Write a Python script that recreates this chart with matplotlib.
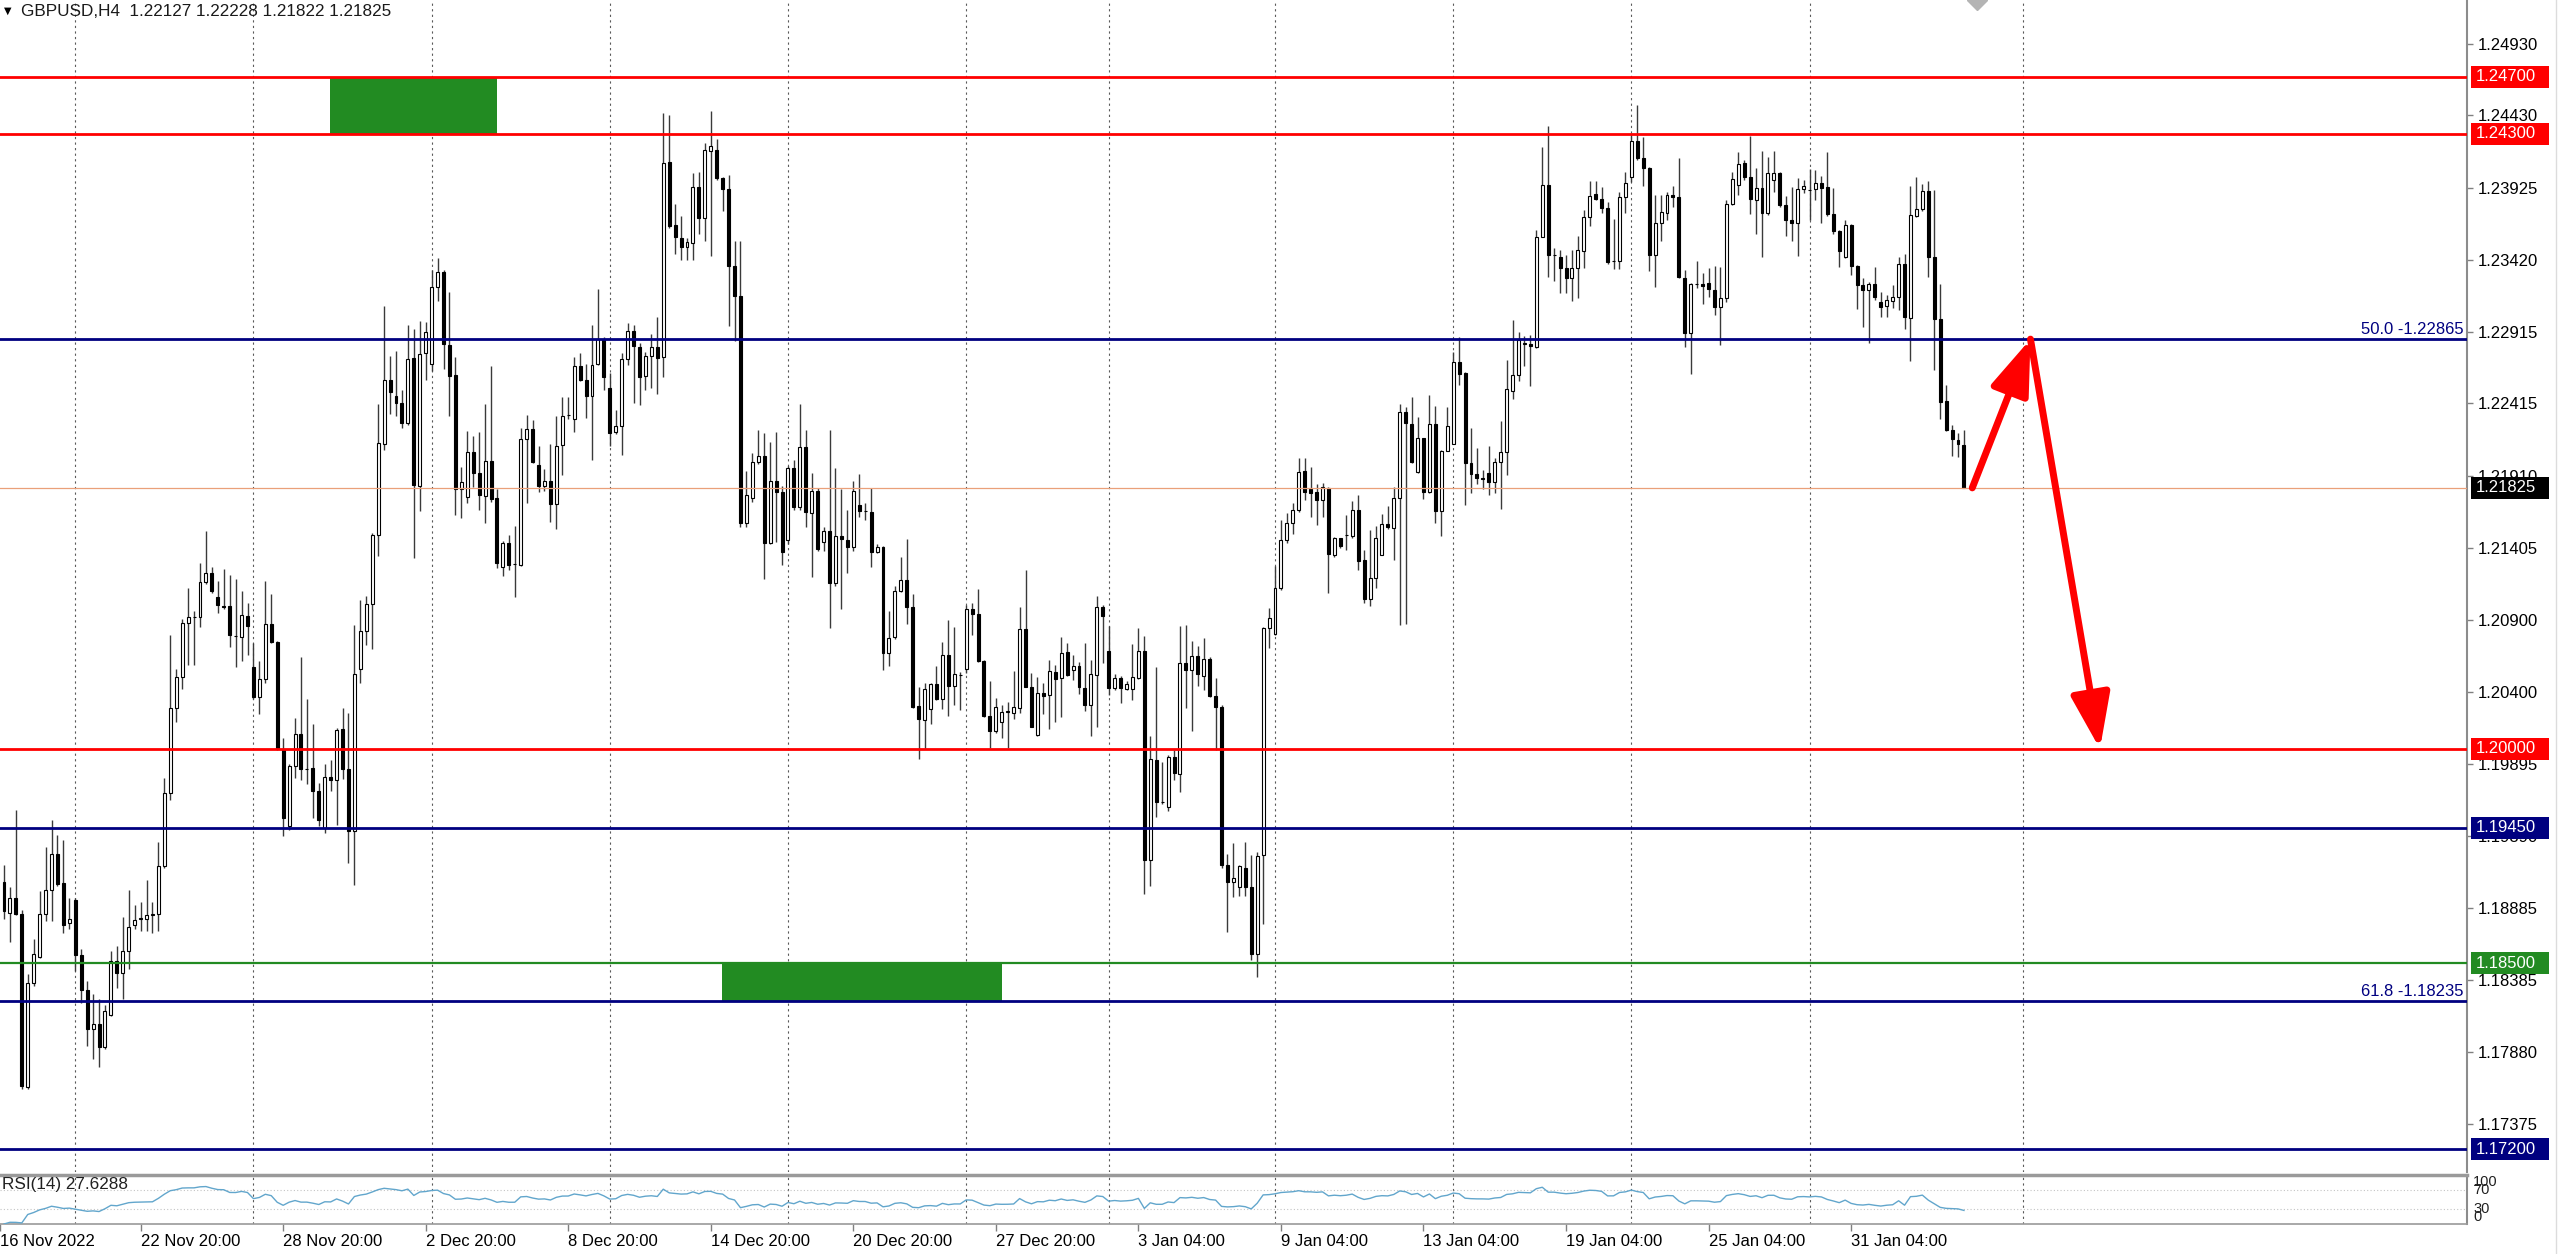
import numpy as np
import pandas as pd
import matplotlib
matplotlib.use('Agg')
from matplotlib import pyplot as plt
from matplotlib import transforms
from matplotlib.patches import Rectangle, FancyArrowPatch
from matplotlib.lines import Line2D

plt.rcParams['font.family'] = ['Liberation Sans', 'DejaVu Sans']

# ---------------- data (GBPUSD H4) ----------------
symbol = 'GBPUSD,H4'

op = [1.19067, 1.18856, 1.18955, 1.18848, 1.17634, 1.18365, 1.18544, 1.18848, 1.19016, 1.19264,
      1.19061, 1.18780, 1.18946, 1.18561, 1.18314, 1.18041, 1.18078, 1.17915, 1.18140, 1.18516,
      1.18432, 1.18589, 1.18772, 1.18809, 1.18809, 1.18837, 1.18848, 1.19179, 1.19691, 1.20289,
      1.20500, 1.20879, 1.20920, 1.20922, 1.21166, 1.21231, 1.21062, 1.20998, 1.20998, 1.20787,
      1.20781, 1.20930, 1.20570, 1.20360, 1.20486, 1.20871, 1.20747, 1.20000, 1.19460, 1.19882,
      1.20101, 1.19862, 1.19868, 1.19705, 1.19446, 1.19803, 1.19784,
      1.20141, 1.19857, 1.19429, 1.20560, 1.20823, 1.21016, 1.21493, 1.22134, 1.22581, 1.22470,
      1.22415, 1.22277, 1.22735, 1.21836, 1.22768, 1.22691, 1.23232, 1.23334, 1.22824, 1.22617,
      1.21816, 1.21761, 1.22073, 1.21927, 1.21769, 1.22015, 1.21753, 1.21273, 1.21438, 1.21292,
      1.21284, 1.22167, 1.22239, 1.21982, 1.21836, 1.21871, 1.21714, 1.22128, 1.22332, 1.22305,
      1.22680, 1.22581, 1.22470, 1.22691, 1.22865, 1.22526, 1.22216, 1.22258, 1.22727, 1.22920,
      1.22807, 1.22608, 1.22746, 1.22807,
      1.22742, 1.24106, 1.23663, 1.23572, 1.23506, 1.23536, 1.23930, 1.23712, 1.24179, 1.24188,
      1.23991, 1.23915, 1.23379, 1.23166, 1.21582, 1.21754, 1.22006, 1.22051, 1.21439, 1.21876,
      1.21794, 1.21461, 1.21961, 1.21688, 1.22112, 1.21651, 1.21803, 1.21445, 1.21521, 1.21158,
      1.21491, 1.21461, 1.21415, 1.21703, 1.21664, 1.21658, 1.21379, 1.21409, 1.20673, 1.20779,
      1.21106, 1.21179, 1.20991, 1.20300, 1.20203, 1.20279, 1.20452, 1.20349, 1.20658, 1.20439,
      1.20518, 1.20561, 1.20976, 1.20945, 1.20612, 1.20233, 1.20127,
      1.20190, 1.20260, 1.20248, 1.20283, 1.20837, 1.20435, 1.20096, 1.20393, 1.20376, 1.20540,
      1.20493, 1.20680, 1.20552, 1.20580, 1.20423, 1.20306, 1.20517, 1.20991, 1.20687, 1.20423,
      1.20493, 1.20416, 1.20416, 1.20493, 1.20687, 1.19225, 1.19921, 1.19629, 1.19594, 1.19940,
      1.19827, 1.20598, 1.20552, 1.20650, 1.20510, 1.20626, 1.20369, 1.20290, 1.19185, 1.19068,
      1.19033, 1.19169, 1.19033, 1.18566, 1.19255, 1.20844, 1.20804, 1.21124, 1.21458, 1.21579,
      1.21671, 1.21941, 1.21816, 1.21796, 1.21743, 1.21823, 1.21357, 1.21473, 1.21497, 1.21490,
      1.21671, 1.21321, 1.21049, 1.21193, 1.21357, 1.21574, 1.21545, 1.21755, 1.22358, 1.22274,
      1.21936, 1.22173, 1.21796, 1.22274, 1.21666, 1.22086, 1.22134, 1.22703, 1.22631, 1.21997,
      1.21924, 1.21893, 1.21931, 1.21864, 1.22004, 1.22076, 1.22503, 1.22612, 1.22829, 1.22833,
      1.22809, 1.23581, 1.23943, 1.23451, 1.23436, 1.23364, 1.23292, 1.23364, 1.23480, 1.23721,
      1.23878, 1.23842, 1.23781, 1.23408,
      1.23408, 1.23857, 1.24001, 1.24253, 1.24130, 1.24060, 1.23453, 1.23679, 1.23745, 1.23873,
      1.23857, 1.23290, 1.22905, 1.23250, 1.23250, 1.23255, 1.23208, 1.23092, 1.23150, 1.23810,
      1.23943, 1.24095, 1.24001, 1.23838, 1.23920, 1.23745, 1.23978, 1.24029, 1.23803, 1.23698,
      1.23675, 1.23913, 1.23908, 1.23913, 1.23959, 1.23927, 1.23740, 1.23624, 1.23437, 1.23663,
      1.23376, 1.23243, 1.23208, 1.23250, 1.23127, 1.23096, 1.23134, 1.23157, 1.23390, 1.23010,
      1.23726, 1.23773, 1.23903, 1.23442, 1.23003, 1.22434, 1.22233, 1.22163, 1.22127]

hi = [1.19185, 1.19033, 1.19573, 1.18876, 1.18426, 1.18674, 1.19005, 1.19314, 1.19503, 1.19399,
      1.19362, 1.18960, 1.18960, 1.18603, 1.18379, 1.18286, 1.18252, 1.18210, 1.18589, 1.18623,
      1.18828, 1.19011, 1.18912, 1.18932, 1.19081, 1.18932, 1.19348, 1.19798, 1.20795, 1.20556,
      1.20908, 1.21124, 1.20964, 1.21301, 1.21526, 1.21273, 1.21175, 1.21259, 1.21217, 1.21189,
      1.21104, 1.21020, 1.20739, 1.20613, 1.21175, 1.21085, 1.20753, 1.20079, 1.19896, 1.20214,
      1.20641, 1.20346, 1.20177, 1.19764, 1.19896, 1.19924, 1.20149,
      1.20284, 1.20251, 1.20864, 1.21043, 1.21071, 1.21513, 1.22410, 1.23094, 1.22746, 1.22782,
      1.22506, 1.22967, 1.22934, 1.22995, 1.22984, 1.23348, 1.23431, 1.23348, 1.23196, 1.22741,
      1.21974, 1.22222, 1.22189, 1.22216, 1.22410, 1.22680, 1.21816, 1.21457, 1.21499, 1.21560,
      1.22244, 1.22332, 1.22299, 1.22120, 1.21954, 1.22134, 1.22327, 1.22459, 1.22459, 1.22741,
      1.22768, 1.22691, 1.22962, 1.23216, 1.22879, 1.22625, 1.22368, 1.22768, 1.22975, 1.22967,
      1.22837, 1.22774, 1.22901, 1.23022,
      1.24445, 1.24430, 1.23809, 1.23724, 1.23572, 1.24027, 1.24036, 1.24239, 1.24460, 1.24263,
      1.23997, 1.24015, 1.23551, 1.23551, 1.21945, 1.22067, 1.22227, 1.22209, 1.22148, 1.22218,
      1.21839, 1.21976, 1.22021, 1.22409, 1.22233, 1.21930, 1.21824, 1.21551, 1.22227, 1.21967,
      1.21815, 1.21673, 1.21870, 1.21924, 1.21718, 1.21824, 1.21430, 1.21421, 1.20967, 1.21142,
      1.21339, 1.21470, 1.21082, 1.20430, 1.20461, 1.20461, 1.20582, 1.20749, 1.20900, 1.20855,
      1.20536, 1.21006, 1.21021, 1.21118, 1.20620, 1.20476, 1.20355,
      1.20306, 1.20330, 1.20547, 1.20995, 1.21252, 1.20533, 1.20500, 1.20458, 1.20622, 1.20587,
      1.20781, 1.20738, 1.20657, 1.20610, 1.20743, 1.20622, 1.21070, 1.21007, 1.20860, 1.20524,
      1.20510, 1.20477, 1.20734, 1.20844, 1.20790, 1.20089, 1.20575, 1.19909, 1.19956, 1.19991,
      1.20860, 1.20867, 1.20757, 1.20720, 1.20774, 1.20640, 1.20493, 1.20306, 1.19267, 1.19342,
      1.19185, 1.19349, 1.19255, 1.19278, 1.20855, 1.20984, 1.21276, 1.21600, 1.21650, 1.21720,
      1.22033, 1.22033, 1.21972, 1.21852, 1.21859, 1.21828, 1.21483, 1.21478, 1.21635, 1.21731,
      1.21772, 1.21394, 1.21531, 1.21555, 1.21642, 1.21695, 1.21828, 1.22414, 1.22390, 1.22462,
      1.22322, 1.22177, 1.22472, 1.22399, 1.22093, 1.22390, 1.22776, 1.22882, 1.22636, 1.22245,
      1.22105, 1.21948, 1.22117, 1.22037, 1.22293, 1.22720, 1.22997, 1.22913, 1.22889, 1.22896,
      1.23629, 1.24208, 1.24353, 1.23504, 1.23485, 1.23451, 1.23485, 1.23588, 1.23769, 1.23974,
      1.23974, 1.23926, 1.23822, 1.23702,
      1.23895, 1.24036, 1.24305, 1.24500, 1.24281, 1.24071, 1.23873, 1.23873, 1.23896, 1.23936,
      1.24130, 1.23348, 1.23255, 1.23414, 1.23325, 1.23360, 1.23376, 1.23372, 1.23838, 1.24036,
      1.24176, 1.24118, 1.24286, 1.24060, 1.24183, 1.24141, 1.24183, 1.24036, 1.23866, 1.23927,
      1.23990, 1.23978, 1.24053, 1.24048, 1.24006, 1.24176, 1.23920, 1.23630, 1.23698, 1.23670,
      1.23380, 1.23290, 1.23267, 1.23372, 1.23197, 1.23173, 1.23243, 1.23437, 1.23460, 1.23936,
      1.24001, 1.23950, 1.23973, 1.23908, 1.23250, 1.22543, 1.22263, 1.22210, 1.22228]

lo = [1.18814, 1.18651, 1.18842, 1.17620, 1.17620, 1.18342, 1.18539, 1.18800, 1.18800, 1.19039,
      1.18716, 1.18744, 1.18449, 1.18224, 1.17921, 1.17831, 1.17774, 1.17901, 1.18130, 1.18331,
      1.18252, 1.18463, 1.18744, 1.18730, 1.18730, 1.18716, 1.18730, 1.19170, 1.19643, 1.20191,
      1.20416, 1.20584, 1.20584, 1.20851, 1.21152, 1.21090, 1.20950, 1.20978, 1.20711, 1.20570,
      1.20613, 1.20655, 1.20346, 1.20247, 1.20458, 1.20739, 1.19995, 1.19390, 1.19432, 1.19798,
      1.19784, 1.19755, 1.19517, 1.19460, 1.19410, 1.19708, 1.19466,
      1.19788, 1.19200, 1.19050, 1.20464, 1.20726, 1.20698, 1.21347, 1.22092, 1.22341, 1.22327,
      1.22244, 1.22266, 1.21333, 1.21664, 1.22581, 1.22644, 1.23133, 1.22658, 1.22327, 1.21637,
      1.21615, 1.21720, 1.21830, 1.21670, 1.21582, 1.21725, 1.21264, 1.21209, 1.21250, 1.21063,
      1.21280, 1.21720, 1.21996, 1.21797, 1.21802, 1.21587, 1.21540, 1.21913, 1.22305, 1.22216,
      1.22575, 1.22313, 1.22023, 1.22685, 1.22506, 1.22120, 1.22203, 1.22056, 1.22686, 1.22415,
      1.22404, 1.22506, 1.22520, 1.22479,
      1.22597, 1.23642, 1.23460, 1.23415, 1.23415, 1.23421, 1.23597, 1.23551, 1.23445, 1.23975,
      1.23763, 1.22960, 1.22854, 1.21551, 1.21551, 1.21724, 1.21991, 1.21188, 1.21430, 1.21445,
      1.21288, 1.21430, 1.21673, 1.21673, 1.21551, 1.21203, 1.21385, 1.21385, 1.20846, 1.21142,
      1.20976, 1.21227, 1.21385, 1.21621, 1.21603, 1.21270, 1.21370, 1.20552, 1.20582, 1.20770,
      1.21097, 1.20876, 1.20285, 1.19930, 1.20000, 1.20173, 1.20339, 1.20279, 1.20233, 1.20309,
      1.20270, 1.20530, 1.20794, 1.20605, 1.20225, 1.20006, 1.20112,
      1.20073, 1.20003, 1.20206, 1.20253, 1.20430, 1.20150, 1.20090, 1.20243, 1.20136, 1.20190,
      1.20225, 1.20510, 1.20482, 1.20383, 1.20267, 1.20089, 1.20150, 1.20603, 1.20376, 1.20411,
      1.20318, 1.20411, 1.20341, 1.20486, 1.18986, 1.19045, 1.19524, 1.19613, 1.19566, 1.19781,
      1.19699, 1.20283, 1.20126, 1.20439, 1.20411, 1.20365, 1.19991, 1.19169, 1.18718, 1.18963,
      1.18975, 1.18975, 1.18524, 1.18402, 1.18776, 1.20703, 1.20797, 1.21112, 1.21439, 1.21500,
      1.21659, 1.21743, 1.21623, 1.21562, 1.21623, 1.21092, 1.21345, 1.21406, 1.21394, 1.21478,
      1.21249, 1.21020, 1.20996, 1.21128, 1.21353, 1.21538, 1.21321, 1.20863, 1.20875, 1.22000,
      1.21931, 1.21748, 1.21790, 1.21579, 1.21490, 1.22081, 1.22129, 1.22544, 1.21707, 1.21791,
      1.21852, 1.21820, 1.21772, 1.21791, 1.21676, 1.21912, 1.22443, 1.22575, 1.22679, 1.22539,
      1.22805, 1.23577, 1.23299, 1.23268, 1.23190, 1.23190, 1.23130, 1.23154, 1.23364, 1.23654,
      1.23837, 1.23745, 1.23388, 1.23354,
      1.23354, 1.23745, 1.23966, 1.24118, 1.23936, 1.23344, 1.23232, 1.23554, 1.23698, 1.23791,
      1.23290, 1.22807, 1.22620, 1.23220, 1.23110, 1.23157, 1.23033, 1.22823, 1.23127, 1.23803,
      1.23873, 1.23978, 1.23740, 1.23600, 1.23442, 1.23733, 1.23896, 1.23791, 1.23586, 1.23554,
      1.23446, 1.23889, 1.23698, 1.23838, 1.23675, 1.23726, 1.23600, 1.23367, 1.23430, 1.23313,
      1.23073, 1.22952, 1.22835, 1.23138, 1.23022, 1.23022, 1.23080, 1.23068, 1.22933, 1.22714,
      1.23717, 1.23763, 1.23302, 1.22648, 1.22310, 1.22224, 1.22046, 1.22042, 1.21822]

cl = [1.18865, 1.18960, 1.18848, 1.17640, 1.18365, 1.18567, 1.18848, 1.19016, 1.19264, 1.19053,
      1.18772, 1.18809, 1.18561, 1.18314, 1.18041, 1.18078, 1.17915, 1.18168, 1.18516, 1.18432,
      1.18589, 1.18758, 1.18806, 1.18820, 1.18837, 1.18848, 1.19179, 1.19691, 1.20289, 1.20500,
      1.20879, 1.20922, 1.20925, 1.21166, 1.21231, 1.21104, 1.21006, 1.20995, 1.20795, 1.20790,
      1.20936, 1.20860, 1.20360, 1.20486, 1.20871, 1.20747, 1.20000, 1.19517, 1.19882, 1.20101,
      1.19859, 1.19860, 1.19705, 1.19503, 1.19803, 1.19784, 1.20135,
      1.19857, 1.19429, 1.20527, 1.20823, 1.21016, 1.21499, 1.22139, 1.22581, 1.22492, 1.22415,
      1.22277, 1.22727, 1.21844, 1.22763, 1.22912, 1.23232, 1.23334, 1.22829, 1.22608, 1.21816,
      1.21863, 1.22073, 1.21927, 1.21775, 1.22015, 1.21747, 1.21300, 1.21438, 1.21284, 1.21290,
      1.22167, 1.22239, 1.22009, 1.21836, 1.21871, 1.21714, 1.22120, 1.22327, 1.22335, 1.22680,
      1.22581, 1.22465, 1.22686, 1.22865, 1.22603, 1.22211, 1.22258, 1.22727, 1.22920, 1.22818,
      1.22597, 1.22746, 1.22807, 1.22735,
      1.24097, 1.23657, 1.23582, 1.23506, 1.23542, 1.23930, 1.23712, 1.24188, 1.24218, 1.23991,
      1.23915, 1.23379, 1.23166, 1.21582, 1.21773, 1.22006, 1.22051, 1.21439, 1.21876, 1.21794,
      1.21379, 1.21967, 1.21688, 1.22112, 1.21658, 1.21803, 1.21400, 1.21521, 1.21158, 1.21491,
      1.21470, 1.21415, 1.21803, 1.21664, 1.21660, 1.21379, 1.21415, 1.20673, 1.20773, 1.21106,
      1.21179, 1.20991, 1.20294, 1.20209, 1.20421, 1.20452, 1.20349, 1.20658, 1.20439, 1.20521,
      1.20520, 1.20976, 1.20945, 1.20612, 1.20233, 1.20127, 1.20294,
      1.20260, 1.20265, 1.20290, 1.20837, 1.20435, 1.20154, 1.20393, 1.20369, 1.20547, 1.20486,
      1.20673, 1.20517, 1.20580, 1.20430, 1.20306, 1.20524, 1.20991, 1.20930, 1.20423, 1.20493,
      1.20423, 1.20454, 1.20505, 1.20687, 1.19225, 1.19926, 1.19629, 1.19630, 1.19940, 1.19832,
      1.20598, 1.20552, 1.20650, 1.20524, 1.20626, 1.20369, 1.20290, 1.19185, 1.19068, 1.19099,
      1.19178, 1.19033, 1.18566, 1.19248, 1.20844, 1.20914, 1.21124, 1.21458, 1.21579, 1.21670,
      1.21936, 1.21796, 1.21791, 1.21738, 1.21828, 1.21362, 1.21478, 1.21418, 1.21495, 1.21671,
      1.21314, 1.21049, 1.21193, 1.21473, 1.21574, 1.21550, 1.21755, 1.22358, 1.22279, 1.22009,
      1.22173, 1.21796, 1.22274, 1.21666, 1.22081, 1.22255, 1.22708, 1.22624, 1.21997, 1.21924,
      1.21893, 1.21890, 1.21864, 1.22009, 1.22076, 1.22515, 1.22616, 1.22858, 1.22841, 1.22817,
      1.23581, 1.23943, 1.23451, 1.23450, 1.23359, 1.23292, 1.23364, 1.23485, 1.23721, 1.23866,
      1.23847, 1.23781, 1.23403, 1.23410,
      1.23861, 1.23959, 1.24253, 1.24130, 1.24060, 1.23453, 1.23679, 1.23756, 1.23873, 1.23857,
      1.23297, 1.22910, 1.23250, 1.23252, 1.23236, 1.23213, 1.23092, 1.23150, 1.23810, 1.23983,
      1.24090, 1.24001, 1.23843, 1.23920, 1.23745, 1.24025, 1.24029, 1.23803, 1.23698, 1.23675,
      1.23913, 1.23936, 1.23910, 1.23959, 1.23920, 1.23740, 1.23624, 1.23484, 1.23663, 1.23376,
      1.23243, 1.23208, 1.23250, 1.23162, 1.23092, 1.23138, 1.23162, 1.23390, 1.23017, 1.23733,
      1.23773, 1.23903, 1.23442, 1.23003, 1.22427, 1.22233, 1.22170, 1.22130, 1.21825]

# horizontal levels drawn on the chart
red_levels = [1.24700, 1.24300, 1.20000]
navy_levels = [1.19450, 1.17200]
green_levels = [1.18500]
fibo_levels = [(1.22865, '50.0 -1.22865'), (1.18235, '61.8 -1.18235')]
bid = 1.21825

price_ticks = [1.24930, 1.24430, 1.23925, 1.23420, 1.22915, 1.22415, 1.21910, 1.21405,
               1.20900, 1.20400, 1.19895, 1.19390, 1.18885, 1.18385, 1.17880, 1.17375]

# x axis labels (bar index of each label)
date_labels = ['16 Nov 2022', '22 Nov 20:00', '28 Nov 20:00', '2 Dec 20:00', '8 Dec 20:00',
               '14 Dec 20:00', '20 Dec 20:00', '27 Dec 20:00', '3 Jan 04:00', '9 Jan 04:00',
               '13 Jan 04:00', '19 Jan 04:00', '25 Jan 04:00', '31 Jan 04:00']
date_pos = [-0.67, 23, 47, 71, 95, 119, 143, 167, 191, 215, 239, 263, 287, 311]
week_sep = [12, 42, 72, 102, 132, 162, 186, 214, 244, 274, 304, 340]

# green zones (bar from, bar to, price low, price high)
zones = [(54.9, 83.0, 1.24300, 1.24700), (120.9, 168.0, 1.18235, 1.18500)]

# forecast arrows (bar, price)
path_pts = [(331.4, 1.21825), (341.2, 1.22865), (352.9, 1.20000)]
shift_bar = 332.2

rsi_text = 'RSI(14) 27.6288'

op, hi, lo, cl = map(np.array, (op, hi, lo, cl))
n = len(cl)
idx = np.arange(n)

# ---------------- layout ----------------
W, H = 2560, 1254
fig = plt.figure(figsize=(W / 100, H / 100), dpi=100)
fig.patch.set_facecolor('white')

x_right = 2467
ax = fig.add_axes([0, 1 - 1172 / H, x_right / W, 1172 / H])
rax = fig.add_axes([0, 1 - 1224 / H, x_right / W, 49 / H])

xmin, xmax = -0.674, 414.7
ymin, ymax = 1.17042, 1.25236

# ---------------- candles ----------------
up = cl >= op
b_lo = np.minimum(op, cl)
b_hi = np.maximum(op, cl)
b_h = np.maximum(b_hi - b_lo, 0.000012)
w_hi = np.maximum(hi, b_hi)
w_lo = np.minimum(lo, b_lo)

ax.vlines(idx, w_lo, w_hi, color='#3a3a3a', lw=1.0, zorder=3)
ax.bar(idx[up], b_h[up], bottom=b_lo[up], width=0.5, facecolor='white',
       edgecolor='black', lw=0.8, zorder=4)
ax.bar(idx[~up], b_h[~up], bottom=b_lo[~up], width=0.5, facecolor='black',
       edgecolor='black', lw=0.8, zorder=4)

# ---------------- grid (week separators) ----------------
for xs in week_sep:
    ax.axvline(xs, color='#5a5a5a', lw=0.8, ls=(0, (2, 3)), zorder=1)
    rax.axvline(xs, color='#5a5a5a', lw=0.8, ls=(0, (2, 3)), zorder=1)

# ---------------- zones and levels ----------------
for x0, x1, p0, p1 in zones:
    ax.add_patch(Rectangle((x0, p0), x1 - x0, p1 - p0, facecolor='#228b22',
                           edgecolor='none', zorder=2))

ax.axhline(bid, color='#eaa07a', lw=0.9, zorder=5)
for p in red_levels:
    ax.axhline(p, color='#ff0000', lw=2.0, zorder=6)
for p in navy_levels:
    ax.axhline(p, color='#000080', lw=2.0, zorder=6)
for p in green_levels:
    ax.axhline(p, color='#228b22', lw=1.6, zorder=6)

tr_ax = transforms.blended_transform_factory(ax.transAxes, ax.transData)
for p, txt in fibo_levels:
    ax.axhline(p, color='#000080', lw=2.0, zorder=6)
    ax.text(0.9985, p + 0.00018, txt, transform=tr_ax, ha='right', va='bottom',
            color='#000080', fontsize=12, zorder=7)

# ---------------- arrows ----------------
for a, b in zip(path_pts[:-1], path_pts[1:]):
    ax.add_patch(FancyArrowPatch(a, b, arrowstyle='-|>,head_length=1.4,head_width=0.5',
                                 mutation_scale=24, color='#ff0000', lw=5,
                                 shrinkA=0, shrinkB=0, capstyle='round', zorder=8))

# chart shift marker at the top edge
ax.plot([shift_bar], [ymax], marker='D', markersize=10, color='#b4b4b4',
        clip_on=False, zorder=9)

# ---------------- price axis ----------------
ax.set_xlim(xmin, xmax)
ax.set_ylim(ymin, ymax)
ax.yaxis.tick_right()
ax.set_yticks(price_ticks)
ax.set_yticklabels(['%.5f' % v for v in price_ticks])
ax.tick_params(axis='y', length=4, width=1, color='#808080', pad=4, labelsize=12)
ax.tick_params(axis='x', bottom=False, labelbottom=False)
for s in ['top', 'left', 'bottom']:
    ax.spines[s].set_visible(False)
ax.spines['right'].set_color('#8c8c8c')
ax.spines['right'].set_linewidth(1.5)

# coloured price tags
tr_tag = transforms.blended_transform_factory(fig.transFigure, ax.transData)
half = 11.0 * (ymax - ymin) / 1172
tags = [(p, '#ff0000') for p in red_levels] + [(p, '#000080') for p in navy_levels] + \
       [(p, '#228b22') for p in green_levels] + [(bid, '#000000')]
for p, c in tags:
    ax.add_patch(Rectangle((2471 / W, p - half), 78 / W, 2 * half, transform=tr_tag,
                           facecolor=c, edgecolor='none', clip_on=False, zorder=10))
    ax.text(2476 / W, p, '%.5f' % p, transform=tr_tag, color='white', fontsize=12,
            ha='left', va='center', clip_on=False, zorder=11)

# ---------------- RSI ----------------
delta = np.diff(cl, prepend=op[0])
gain = pd.Series(np.clip(delta, 0, None)).ewm(alpha=1 / 14, adjust=False).mean()
loss = pd.Series(np.clip(-delta, 0, None)).ewm(alpha=1 / 14, adjust=False).mean()
rsi = 100 - 100 / (1 + gain / loss)

rax.plot(idx, rsi, color='#62a6cc', lw=1.0, zorder=3)
rax.axhline(70, color='#c4c4c4', lw=0.8, ls=(0, (1, 2)))
rax.axhline(30, color='#c4c4c4', lw=0.8, ls=(0, (1, 2)))
rax.set_xlim(xmin, xmax)
rax.set_ylim(0, 100)
rax.text(0.001, 0.95, rsi_text, transform=rax.transAxes, ha='left', va='top',
         fontsize=12.3, color='#202020')

rax.yaxis.tick_right()
rax.set_yticks([])
tr_r = transforms.blended_transform_factory(rax.transAxes, rax.transData)
for v, va in [(100, 'top'), (70, 'center'), (30, 'center'), (0, 'bottom')]:
    rax.text(1.0025, v, str(v), transform=tr_r, ha='left', va=va, fontsize=10.5,
             color='#202020', clip_on=False)

rax.set_xticks(date_pos)
rax.set_xticklabels(date_labels, ha='left')
rax.tick_params(axis='x', length=5, width=1, color='#808080', pad=2, labelsize=12)
rax.spines['left'].set_visible(False)
rax.spines['top'].set_color('#9a9a9a')
rax.spines['top'].set_linewidth(2.5)
rax.spines['bottom'].set_color('#9a9a9a')
rax.spines['bottom'].set_linewidth(1.2)
rax.spines['right'].set_color('#8c8c8c')
rax.spines['right'].set_linewidth(1.5)

# ---------------- header ----------------
fig.text(4 / W, 1 - 11 / H, '\u25bc', fontsize=7, va='center', ha='left',
         family=['DejaVu Sans'])
fig.text(21 / W, 1 - 12 / H, '%s  %.5f %.5f %.5f %.5f' % (symbol, op[-1], hi[-1], lo[-1], cl[-1]),
         fontsize=12.3, va='center', ha='left', color='#1a1a1a')

fig.add_artist(Line2D([2556 / W, 2556 / W], [0, 1], color='#dcdcdc', lw=1))

fig.savefig('out.png', dpi=100, facecolor='white')
